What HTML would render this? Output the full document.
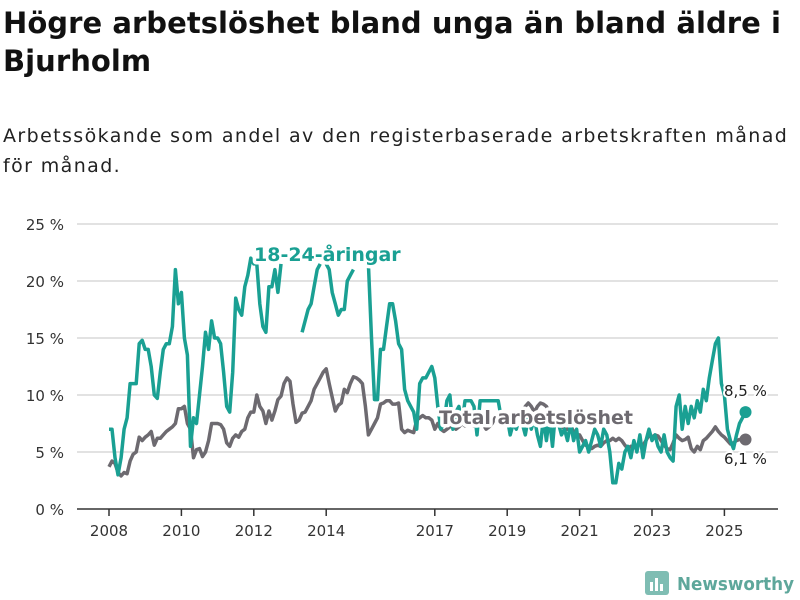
<!DOCTYPE html>
<html><head><meta charset="utf-8"><style>
body{margin:0;background:#fff;font-family:"Liberation Sans","DejaVu Sans",sans-serif;}
#wrap{position:relative;width:800px;height:600px;overflow:hidden}
h1{position:absolute;left:3px;top:4px;margin:0;font-size:29px;line-height:38px;font-weight:bold;color:#111;width:797px;font-family:"DejaVu Sans",sans-serif;letter-spacing:0.05px;white-space:nowrap}
.sub{position:absolute;left:3px;top:121px;font-size:19px;line-height:30px;color:#222;font-family:"DejaVu Sans",sans-serif;width:797px;letter-spacing:1.4px;white-space:nowrap}
svg{position:absolute;left:0;top:0}
</style></head><body><div id="wrap">
<h1>Högre arbetslöshet bland unga än bland äldre i<br>Bjurholm</h1>
<div class="sub">Arbetssökande som andel av den registerbaserade arbetskraften månad<br>för månad.</div>
<svg id="c" width="800" height="600"></svg>
</div>
<script>
const yTicks=[0,5,10,15,20,25];
const yTickLabels=["0 %","5 %","10 %","15 %","20 %","25 %"];
const xTickYears=[2008,2010,2012,2014,2017,2019,2021,2023,2025];
const startYear=2008;
const youth=[7,7,4.5,3,4.5,7,8,11,11,11,14.5,14.8,
14,14,12.5,10,9.7,12,14,14.5,14.5,16,21,18,
19,15,13.5,5.5,8,7.5,10,12.5,15.5,14,16.5,15,
15,14.5,12,9,8.5,12,18.5,17.5,17,19.5,20.5,22,
21.5,21.5,18,16,15.5,19.5,19.5,21,19,21.5,null,null,
null,null,null,null,15.5,16.5,17.5,18,19.5,21,21.5,null,
21.5,21,19,18,17,17.5,17.5,20,20.5,21,null,null,
null,null,21.5,15,9.6,9.6,14,14,16,18,18,16.5,
14.5,14,10.5,9.5,9,8.5,7,11,11.5,11.5,12,12.5,
11.5,9,7,7.5,9.5,10,7,8.5,9,7.5,9.5,9.5,
9.5,9,6.5,9.5,9.5,9.5,9.5,9.5,9.5,9.5,8,8.5,
8,6.5,7.5,7,8,7.5,6.5,8,7,8,6.5,5.5,
8,6,8,5.5,8.5,7.5,6.5,7,6,7.5,6,7,
5,5.5,6,5,6,7,6.5,5.5,7,6.5,5,2.3,
2.3,4,3.5,5,5.5,4.5,6,5,6.5,4.5,6,7,
6,6.5,5.5,5,6.5,5,4.5,4.2,9,10,7,9,
7.5,9,8,9.5,8.5,10.5,9.5,11.5,13,14.5,15,11,
10,7,6,5.3,6.5,7.5,8,8.5];
const total=[3.7,4.2,4,3.2,2.9,3.2,3.1,4.2,4.8,5,6.3,6,
6.3,6.5,6.8,5.6,6.2,6.2,6.5,6.8,7,7.2,7.5,8.8,
8.8,9,7.5,7,4.5,5.2,5.3,4.6,5,6,7.5,7.5,
7.5,7.4,7,5.8,5.5,6.2,6.5,6.3,6.8,7,8,8.5,
8.5,10,9,8.6,7.5,8.6,7.8,8.6,9.6,9.9,11,11.5,
11.2,9.2,7.6,7.8,8.4,8.5,9,9.5,10.5,11,11.5,12,
12.3,11,9.8,8.6,9.1,9.3,10.5,10.2,11,11.6,11.5,11.3,
11,9,6.5,7,7.5,8,9.2,9.3,9.5,9.5,9.2,9.2,
9.3,7,6.7,6.9,6.8,6.7,7.8,8,8.2,8,8,7.8,
7,7.5,7,6.8,7,7.2,7.5,7,7.2,7.5,7.3,7.4,
7.5,7.3,7.2,7.5,7.4,7,7.2,7.5,8,7.8,7.5,7.4,
7.3,7.5,7.8,8,8.3,8.5,9,9.3,9,8.5,9,9.3,
9.2,9,8.5,8.2,8,7.5,7.3,7,7,7.3,6.8,6.5,
6.5,6,5.6,5.5,5.3,5.5,5.6,5.5,5.8,6,6,6.2,
6,6.2,6,5.6,5.3,5.5,5.4,5.5,5.7,5.6,6,6.5,
6.3,6.5,6.4,6,5.6,5.3,5.2,5.8,6.5,6.2,6,6.1,
6.3,5.3,5,5.5,5.2,6,6.2,6.5,6.8,7.2,6.8,6.5,
6.3,6,5.7,5.8,6,6.1,6.1,6.1];
const NS="http://www.w3.org/2000/svg";
const svg=document.getElementById('c');
const X=m=>109+m*(36.2/12);
const Y=v=>509-v*11.4;
function mk(t,a,p){const e=document.createElementNS(NS,t);for(const k in a)e.setAttribute(k,a[k]);(p||svg).appendChild(e);return e;}
yTicks.forEach((v,i)=>{
 if(v>0){const g=mk('line',{x1:77,x2:778,y1:Y(v),y2:Y(v),stroke:'#d9d9d9','stroke-width':1.5});
 
 }
 const t=mk('text',{x:64,y:Y(v)+6,'text-anchor':'end','font-size':15,fill:'#333','font-family':'DejaVu Sans,sans-serif'});
 t.textContent=yTickLabels[i];
 
 
});
const ax=mk('line',{x1:77,x2:778,y1:509,y2:509,stroke:'#333','stroke-width':1.5});


xTickYears.forEach(yr=>{
 const x=X((yr-startYear)*12);
 const tk=mk('line',{x1:x,x2:x,y1:509,y2:516,stroke:'#333','stroke-width':1.5});
 
 
 const t=mk('text',{x:x,y:536,'text-anchor':'middle','font-size':15,fill:'#333','font-family':'DejaVu Sans,sans-serif'});
 t.textContent=yr;
 
 
});
function path(arr){let d='',pen=false;arr.forEach((v,i)=>{if(v==null){pen=false;return;}d+=(pen?'L':'M')+X(i).toFixed(1)+','+Y(v).toFixed(1);pen=true;});return d;}
const pt=mk('path',{d:path(total),fill:'none',stroke:'#6d6a70','stroke-width':3.5,'stroke-linejoin':'round'});


const py=mk('path',{d:path(youth),fill:'none',stroke:'#1aa093','stroke-width':3.5,'stroke-linejoin':'round'});


const li=total.length-1;
const d1=mk('circle',{cx:X(li),cy:Y(total[li]),r:6,fill:'#6d6a70'});


const d2=mk('circle',{cx:X(youth.length-1),cy:Y(youth[youth.length-1]),r:6,fill:'#1aa093'});


function lbl(txt,x,y,size,col,bold,name,sw){const t=mk('text',{x:x,y:y,'font-size':size,fill:col,'font-weight':bold?'bold':'normal','font-family':'DejaVu Sans,sans-serif',stroke:'#fff','stroke-width':sw,'paint-order':'stroke','stroke-linejoin':'round'});t.textContent=txt;

}
lbl('18-24-åringar',254,261,19,'#1aa093',true,'youth-series-label',7);
lbl('Total arbetslöshet',439,424,19,'#6d6a70',true,'total-series-label',7);
lbl(String(youth[youth.length-1]).replace('.',',')+' %',724,396,15,'#222',false,'youth-value-label',4);
lbl(String(total[li]).replace('.',',')+' %',724,464,15,'#222',false,'total-value-label',4);
const lg=mk('g',{});


mk('rect',{x:645,y:571,width:24,height:24,rx:3,fill:'#7fbdb3'},lg);
mk('rect',{x:650,y:582,width:3,height:9,fill:'#fff'},lg);
mk('rect',{x:655,y:578,width:3,height:13,fill:'#fff'},lg);
mk('rect',{x:660,y:584,width:3,height:7,fill:'#fff'},lg);
const lt=mk('text',{x:677,y:590,'font-size':18,'font-weight':'bold',fill:'#5ea79b','font-family':'DejaVu Sans,sans-serif',textLength:117,lengthAdjust:'spacingAndGlyphs'},lg);
lt.textContent='Newsworthy';
</script></body></html>
